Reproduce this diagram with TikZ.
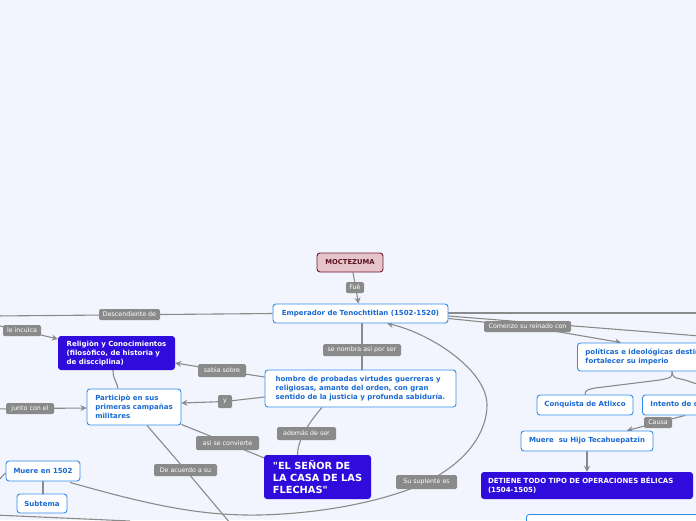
\documentclass[tikz,border=0pt]{standalone}
\usepackage{fontspec}
\setmainfont{DejaVu Sans}[Ligatures=TeXOff]
\usetikzlibrary{arrows.meta}
\definecolor{bgc}{RGB}{243,245,254}
\definecolor{bord}{RGB}{50,140,235}
\definecolor{btext}{RGB}{25,105,210}
\definecolor{vio}{RGB}{48,12,220}
\definecolor{lgray}{RGB}{138,138,138}
\definecolor{mocfill}{RGB}{230,196,204}
\definecolor{mocbord}{RGB}{110,25,45}
\definecolor{moctext}{RGB}{90,20,30}
\pgfdeclarelayer{bg}
\pgfdeclarelayer{lines}
\pgfsetlayers{bg,lines,main}
\tikzset{
  base/.style={rounded corners=3pt, inner sep=0pt, align=left},
  topic/.style={base, draw=bord, line width=0.9pt, fill=white, text=btext, font=\fontsize{7}{9}\selectfont\bfseries},
  vbox/.style={base, fill=vio, text=white, font=\fontsize{7}{9}\selectfont\bfseries},
  lbl/.style={rounded corners=1.5pt, fill=lgray, text=white, font=\fontsize{6.3}{7}\selectfont, inner sep=0pt},
  conn/.style={draw=lgray, line width=1.1pt},
  arr/.style={conn, -{Stealth[length=6pt,width=6pt]}},
}
\begin{document}
\begin{tikzpicture}[x=1pt,y=-1pt]
\useasboundingbox (0,0) rectangle (696,520);
\begin{pgfonlayer}{bg}
\fill[bgc] (0,0) rectangle (696,520);
\end{pgfonlayer}
\begin{scope}
\clip (0,0) rectangle (696,520);
% main nodes
\node[base, draw=mocbord, line width=0.9pt, fill=mocfill, text=moctext, font=\fontsize{6.8}{8.5}\selectfont\bfseries, minimum width=66pt, minimum height=19pt, align=center] (moc) at (350,262.5) {MOCTEZUMA};
\node[topic, minimum width=175pt, minimum height=19pt, align=center] (emp) at (360.5,313.5) {Emperador de Tenochtitlan (1502-1520)};
\node[vbox, minimum width=117pt, minimum height=34pt] (rel) at (116.5,353) {Religiòn y Conocimientos\\(filosòfico, de historia y\\de discciplina)};
\node[topic, minimum width=191pt, minimum height=37pt] (hom) at (360.5,388.5) {hombre de probadas virtudes guerreras y\\religiosas, amante del orden, con gran\\sentido de la justicia y profunda sabiduría.};
\node[topic, minimum width=94pt, minimum height=36pt] (part) at (134,407) {Participò en sus\\primeras campañas\\militares};
\node[vbox, minimum width=107pt, minimum height=44pt, font=\fontsize{9.8}{12}\selectfont\bfseries] (senor) at (317.5,477) {"EL SEÑOR DE\\LA CASA DE LAS\\FLECHAS"};
\node[topic, minimum width=74pt, minimum height=20pt, align=center] (muere) at (43,471) {Muere en 1502};
\node[topic, minimum width=50pt, minimum height=19pt, align=center] (subt) at (42,503.5) {Subtema};
\node[topic, anchor=west, minimum height=28pt, inner xsep=8pt] (pol) at (577,357) {políticas e ideológicas destinadas a\\fortalecer su imperio};
\node[topic, minimum width=96pt, minimum height=20pt, align=center] (conq) at (585,405) {Conquista de Atlixco};
\node[topic, anchor=west, minimum height=20pt, inner xsep=8pt] (int) at (642,405) {Intento de conquista};
\node[topic, minimum width=132pt, minimum height=20pt, align=center] (mhijo) at (587,441) {Muere\ \ su Hijo Tecahuepatzin};
\node[vbox, minimum width=212pt, minimum height=27pt, inner xsep=7pt, text width=198pt] (det) at (587,485.5) {DETIENE TODO TIPO DE OPERACIONES BÉLICAS\\(1504-1505)};
\node[topic, anchor=north west, minimum width=200pt, minimum height=30pt] (bot) at (526,514) {};
% labels
\node[lbl, minimum width=18pt, minimum height=11pt] (fue) at (355,287.5) {Fuè};
\node[lbl, minimum width=61pt, minimum height=11pt] (desc) at (129.5,314.5) {Descendiente de};
\node[lbl, minimum width=38pt, minimum height=11pt] (inc) at (22,330.5) {le inculca};
\node[lbl, minimum width=48pt, minimum height=13pt] (sab) at (222,370.5) {sabia sobre};
\node[lbl, minimum width=78pt, minimum height=12pt] (senom) at (362,350) {se nombra así por ser};
\node[lbl, minimum width=14pt, minimum height=13pt] (ylbl) at (225,401.5) {y};
\node[lbl, minimum width=48pt, minimum height=11pt] (junto) at (30,408.5) {junto con el};
\node[lbl, minimum width=63pt, minimum height=14pt] (asi) at (227.5,443) {asi se convierte};
\node[lbl, minimum width=59pt, minimum height=13pt] (ademas) at (306.5,433.5) {además de ser};
\node[lbl, minimum width=63pt, minimum height=12pt] (deac) at (185.5,470) {De acuerdo a su};
\node[lbl, minimum width=61pt, minimum height=14pt] (supl) at (426.5,482) {Su suplente es};
\node[lbl, minimum width=87pt, minimum height=11pt] (com) at (527.5,326.5) {Comenzo su reinado con};
\node[lbl, minimum width=28pt, minimum height=11pt] (causa) at (658,422.5) {Causa};
% free ends
\coordinate (eDesc) at (-5,316);
\coordinate (eInc) at (-5,325);
\coordinate (eJunto) at (-5,409);
\coordinate (eDeac) at (236,530);
\coordinate (eMuere) at (-5,484);
\coordinate (eBotA) at (-5,515);
\coordinate (eBotB) at (130,521);
\coordinate (eR1) at (700,313);
\coordinate (eR2) at (700,336);
\coordinate (eR3) at (700,385);
\end{scope}
\begin{pgfonlayer}{lines}
\begin{scope}
\clip (0,0) rectangle (696,520);
\draw[arr] ([xshift=3pt]moc.south) -- ([xshift=-2pt]emp.north);
\draw[conn] (emp.west) -- (eDesc);
\draw[arr] (eInc) -- (inc.center) -- ([yshift=14pt]rel.west);
\draw[arr] ([yshift=11.5pt]hom.west) -- (sab.center) -- ([yshift=-10pt]rel.east);
\draw[conn] ([xshift=1.5pt]emp.south) -- ([xshift=1.5pt]hom.north);
\draw[arr] ([yshift=-8.5pt]hom.west) -- (ylbl.center) -- ([yshift=4pt]part.east);
\draw[arr] (eJunto) -- (junto.center) -- ([yshift=-1pt]part.west);
\draw[conn] ([xshift=-3.5pt]rel.south) .. controls +(0,9) and +(-2,-9) .. ([xshift=-16pt]part.north);
\draw[conn] ([yshift=1pt]part.south east) -- (asi.center) -- ([yshift=-3pt]senor.north west);
\draw[conn] ([xshift=-38.5pt]hom.south) .. controls +(-14,16) and +(0,-14) .. ([xshift=-20pt]senor.north);
\draw[conn] ([xshift=13pt]part.south) -- (deac.center) -- (eDeac);
\draw[arr] ([xshift=27pt,yshift=-1pt]muere.south) .. controls (150,505) and (200,516) .. (260,515)
  .. controls (340,513) and (400,495) .. (supl.center)
  .. controls (470,460) and (487,430) .. (487,405)
  .. controls (487,370) and (430,333) .. ([xshift=26.5pt]emp.south);
\draw[conn] ([yshift=-2pt]muere.west) -- (eMuere);
\draw[conn] (muere.south) -- ([xshift=1pt]subt.north);
\draw[conn] (eBotA) -- (eBotB);
\draw[conn] ([yshift=0.5pt]emp.east) -- (eR1);
\draw[conn] ([yshift=-2.5pt]emp.east) -- (eR2);
\draw[arr] ([yshift=-5pt]emp.east) -- (com.center) -- ([xshift=44pt]pol.north west);
\draw[conn] ([xshift=95pt]pol.south west) .. controls +(0,6) .. (660,380) -- (595,388) .. controls (586,390) .. (conq.north);
\draw[conn] ([xshift=95pt]pol.south west) .. controls +(1,6) .. (685,380) -- (eR3);
\draw[arr] ([xshift=43pt]int.south west) -- (causa.center) -- ([xshift=40pt]mhijo.north);
\draw[arr] (mhijo.south) -- (det.north);
\end{scope}
\end{pgfonlayer}
\end{tikzpicture}
\end{document}
